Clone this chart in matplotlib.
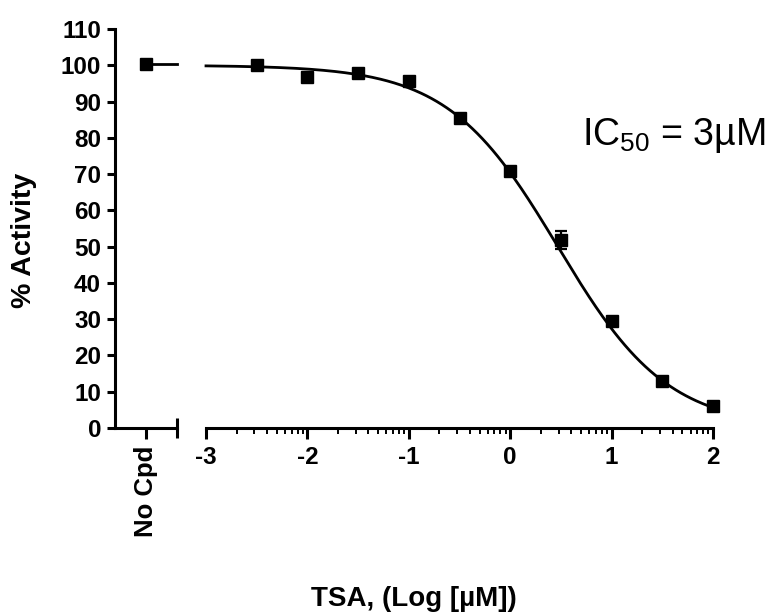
import numpy as np
import matplotlib
matplotlib.use('Agg')
from matplotlib import pyplot as plt
from matplotlib.ticker import FixedLocator, LogLocator, NullFormatter

plt.rcParams['font.family'] = ['Liberation Sans', 'DejaVu Sans']
plt.rcParams['mathtext.fontset'] = 'custom'
plt.rcParams['mathtext.rm'] = 'Liberation Sans'

# control (no compound)
control_label = 'No Cpd'
control_value = 100.3

# dose response, x in log [uM]
log_conc = [-2.5, -2, -1.5, -1, -0.5, 0, 0.5, 1, 1.5, 2]
activity = [100.0, 96.8, 98.0, 95.7, 85.4, 70.8, 51.9, 29.4, 13.0, 6.1]
activity_err = [0, 0, 0, 0, 0, 0, 2.5, 0, 0, 0]

x_ticks = [-3, -2, -1, 0, 1, 2]
y_ticks = list(range(0, 111, 10))

# 4 parameter fit
fit_top = 100.0
fit_bottom = 0.0
fit_log_ic50 = 0.47
fit_hill = 0.8


def sigmoid(x):
    return fit_bottom + (fit_top - fit_bottom) / (1 + 10 ** ((x - fit_log_ic50) * fit_hill))


W, H = 771, 616
fig = plt.figure(figsize=(W / 100, H / 100), dpi=100)

y0 = 428
y1 = 29
ax1 = fig.add_axes([115 / W, 1 - y0 / H, (177 - 115) / W, (y0 - y1) / H])
ax2 = fig.add_axes([206 / W, 1 - y0 / H, (713 - 206) / W, (y0 - y1) / H])

lw = 2.2
for ax in (ax1, ax2):
    ax.set_ylim(0, 110)
    ax.spines['top'].set_visible(False)
    ax.spines['right'].set_visible(False)
    ax.spines['bottom'].set_linewidth(lw)
    ax.spines['left'].set_linewidth(lw)
    ax.patch.set_alpha(0)

# left part: control
ax1.set_xlim(0, 1)
ax1.plot([0.5, 1.0], [control_value, control_value], color='black', lw=2.0, clip_on=False)
ax1.plot([0.5], [control_value], 's', color='black', ms=9, clip_on=False)
ax1.set_xticks([0.5])
ax1.set_xticklabels([control_label], rotation=90, fontsize=18.5, fontweight='bold')
ax1.xaxis.set_minor_locator(FixedLocator([1.0]))
ax1.tick_params(axis='x', which='major', direction='out', length=8, width=lw, pad=5)
ax1.tick_params(axis='x', which='minor', direction='inout', length=14, width=lw)
ax1.set_yticks(y_ticks)
ax1.set_yticklabels([str(v) for v in y_ticks], fontsize=17.5, fontweight='bold')
ax1.tick_params(axis='y', direction='out', length=6, width=lw, pad=4)

# right part: dose response on log scale
ax2.spines['left'].set_visible(False)
ax2.set_yticks([])
ax2.set_xscale('log')
ax2.set_xlim(10.0 ** x_ticks[0], 10.0 ** x_ticks[-1])

xs = np.linspace(x_ticks[0], x_ticks[-1], 300)
ax2.plot(10 ** xs, sigmoid(xs), color='black', lw=2.0, clip_on=False)
ax2.errorbar(10 ** np.array(log_conc), activity, yerr=activity_err, fmt='s',
             color='black', ms=9, capsize=4.5, elinewidth=1.6, capthick=1.6,
             clip_on=False)

ax2.xaxis.set_major_locator(FixedLocator([10.0 ** v for v in x_ticks]))
ax2.set_xticklabels([str(v) for v in x_ticks], fontsize=17.5, fontweight='bold')
ax2.xaxis.set_minor_locator(LogLocator(base=10, subs=np.arange(2, 10)))
ax2.xaxis.set_minor_formatter(NullFormatter())
ax2.tick_params(axis='x', which='major', direction='out', length=8, width=lw, pad=5)
ax2.tick_params(axis='x', which='minor', direction='out', length=4, width=1.4)

fig.text(24 / W, 1 - 240 / H, '% Activity', rotation=90, ha='center', va='center',
         fontsize=20.5, fontweight='bold')
fig.text(414 / W, 1 - 606 / H, 'TSA, (Log [µM])', ha='center', va='baseline',
         fontsize=20, fontweight='bold')
fig.text(582 / W, 1 - 145 / H, r'IC$_{50}$ = 3µM', ha='left', va='baseline', fontsize=27)

fig.savefig('out.png', dpi=100)
